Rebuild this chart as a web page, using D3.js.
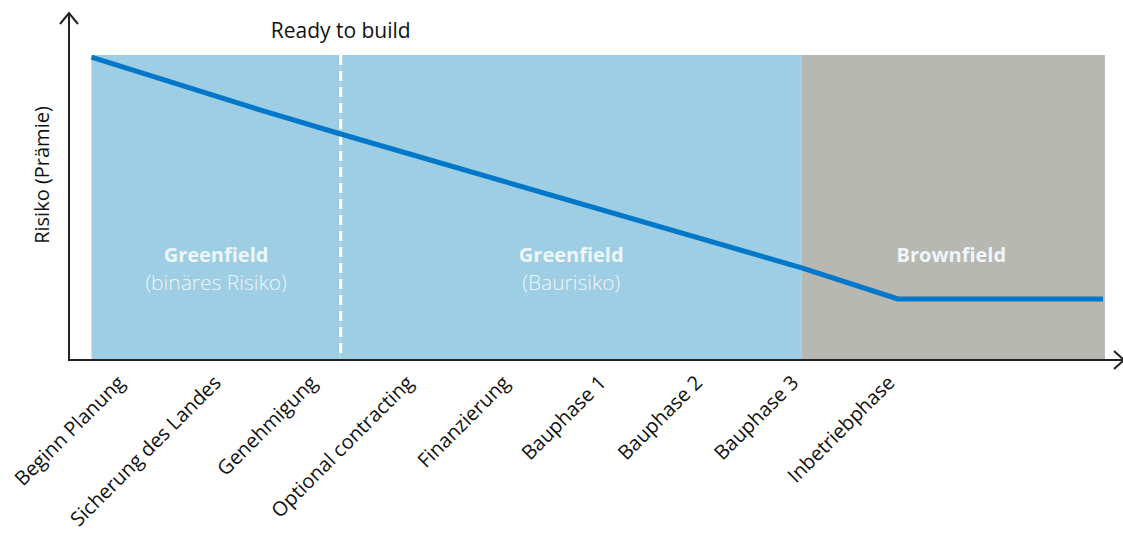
<!DOCTYPE html>
<html>
<head>
<meta charset="utf-8">
<script src="https://cdn.jsdelivr.net/npm/d3@7"></script>
<style>
  html, body { margin: 0; padding: 0; background: #fff; }
  svg { display: block; font-family: "Open Sans", "Noto Sans", sans-serif; }
</style>
</head>
<body>
<div id="chart"></div>
<script>
// Phases along the x axis (index units)
const phases = ['Beginn Planung', 'Sicherung des Landes', 'Genehmigung', 'Optional contracting',
  'Finanzierung', 'Bauphase 1', 'Bauphase 2', 'Bauphase 3', 'Inbetriebphase'];

// Background regions, in phase-index units
const regionNames  = ['Greenfield', 'Greenfield', 'Brownfield'];
const regionSubs   = ['(binäres Risiko)', '(Baurisiko)', ''];
const regionStart  = [-0.38, 2.21, 7.0];
const regionEnd    = [2.21, 7.0, 10.15];
const regionKind   = ['green', 'green', 'brown'];

// Risk curve (premium), x in phase-index units, y in 0..100
const riskX = [-0.38, 1.37, 2.21, 7.0, 8.0, 10.13];
const riskY = [99.3, 82, 74.1, 30.2, 20, 20];

const readyAt = 2.21;

const W = 1123, H = 534;
const svg = d3.select('#chart').append('svg').attr('width', W).attr('height', H);

const x = d3.scaleLinear().domain([0, 8]).range([128, 898]);
const y = d3.scaleLinear().domain([0, 100]).range([360, 55]);

const fill = { green: '#9ecee3', brown: '#b8b8b2' };

// Regions
svg.append('g').selectAll('rect').data(regionStart).join('rect')
  .attr('x', (d) => x(d))
  .attr('y', y(100))
  .attr('width', (d, i) => x(regionEnd[i]) - x(d))
  .attr('height', y(0) - y(100))
  .attr('fill', (d, i) => fill[regionKind[i]]);

// "Ready to build" divider
svg.append('line')
  .attr('x1', x(readyAt)).attr('x2', x(readyAt))
  .attr('y1', y(100)).attr('y2', y(0))
  .attr('stroke', '#fff').attr('stroke-width', 3)
  .attr('stroke-dasharray', '10 6');

svg.append('text')
  .attr('x', x(readyAt)).attr('y', 38)
  .attr('text-anchor', 'middle')
  .attr('font-size', 21).attr('fill', '#111')
  .text('Ready to build');

// Region labels
const labels = svg.append('g').attr('fill', '#eef6fa').attr('text-anchor', 'middle');
regionNames.forEach((name, i) => {
  const cx = (x(regionStart[i]) + x(regionEnd[i])) / 2 + (i === 2 ? -2 : 0);
  labels.append('text').attr('x', cx).attr('y', 262)
    .attr('font-size', 20).attr('font-weight', 'bold').text(name);
  if (regionSubs[i]) {
    labels.append('text').attr('x', cx).attr('y', 290)
      .attr('font-size', 21).attr('font-weight', 300).text(regionSubs[i]);
  }
});

// Risk line
const line = d3.line().x((d, i) => x(riskX[i])).y((d) => y(d));
svg.append('path').datum(riskY)
  .attr('d', line)
  .attr('fill', 'none')
  .attr('stroke', '#0077c8')
  .attr('stroke-width', 5)
  .attr('stroke-linejoin', 'round');

// Axes with arrowheads
const ax = svg.append('g').attr('stroke', '#222').attr('fill', 'none').attr('stroke-width', 2);
ax.append('line').attr('x1', 69).attr('x2', 69).attr('y1', 13).attr('y2', y(0) + 1);
ax.append('path').attr('d', 'M60,24 L69,13 L78,24');
ax.append('line').attr('x1', 68).attr('x2', 1122).attr('y1', y(0)).attr('y2', y(0));
ax.append('path').attr('d', 'M1114,351 L1124,360 L1114,369');

svg.append('text')
  .attr('transform', 'translate(49,175) rotate(-90)')
  .attr('text-anchor', 'middle')
  .attr('font-size', 20).attr('fill', '#111')
  .text('Risiko (Prämie)');

// Phase tick labels
svg.append('g').selectAll('text').data(phases).join('text')
  .attr('transform', (d, i) => `translate(${x(i) - 2},${384}) rotate(-45)`)
  .attr('text-anchor', 'end')
  .attr('font-size', 20).attr('fill', '#111')
  .text((d) => d);
</script>
</body>
</html>
